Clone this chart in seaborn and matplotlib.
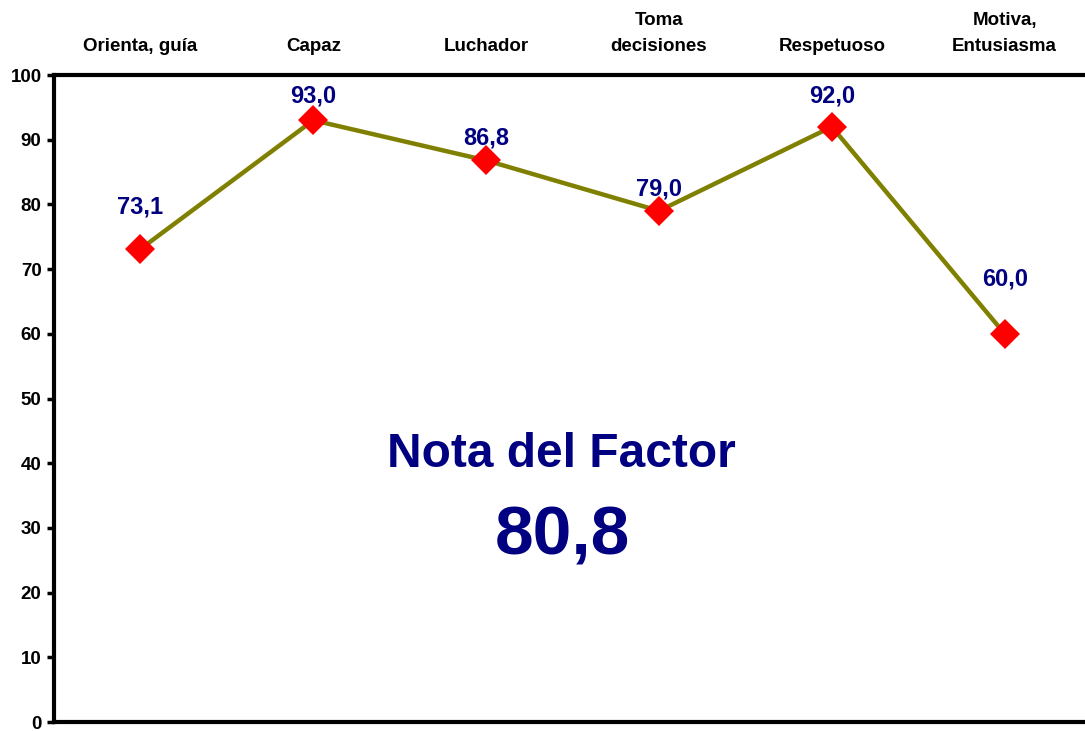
# Line chart of the factor scores with the overall factor note in the middle

import numpy as np
import pandas as pd
import matplotlib
matplotlib.use("Agg")
import matplotlib.pyplot as plt
import seaborn as sns

# data
categories = ["Orienta, guía", "Capaz", "Luchador", "Toma\ndecisiones", "Respetuoso", "Motiva,\nEntusiasma"]
scores = [73.1, 93.0, 86.8, 79.0, 92.0, 60.0]
factor_title = "Nota del Factor"
factor_note = "80,8"
y_ticks = list(range(0, 101, 10))

# layout only: vertical offset (in points) of each value label above its marker
label_dy = [22, 9, 7.5, 7.5, 14, 31.5]

sns.set_style("white")
plt.rcParams['font.family'] = ['Liberation Sans', 'DejaVu Sans']
plt.rcParams['text.color'] = 'black'
plt.rcParams['xtick.color'] = 'black'
plt.rcParams['ytick.color'] = 'black'

df = pd.DataFrame({"cat": categories, "score": scores})

fig = plt.figure(figsize=(10.85, 7.31), dpi=100)
ax = fig.add_axes([0.0498, 0.0123, 0.9558, 0.8851])

sns.lineplot(data=df, x="cat", y="score", ax=ax, sort=False,
             color="#808000", linewidth=3.2,
             marker="D", markersize=15, markerfacecolor="#ff0000",
             markeredgecolor="#ff0000", markeredgewidth=0)

# value labels above the markers
for i, v in enumerate(scores):
    ax.annotate("{:.1f}".format(v).replace(".", ","), xy=(i, v),
                xytext=(0, label_dy[i]), textcoords="offset points",
                ha="center", va="bottom", color="#000080",
                fontsize=17, fontweight="bold")

# big note of the factor in the middle of the plot
ax.text(0.489, 0.413, factor_title, transform=ax.transAxes, ha="center", va="center",
        color="#000080", fontsize=34.5, fontweight="bold")
ax.text(0.490, 0.287, factor_note, transform=ax.transAxes, ha="center", va="center",
        color="#000080", fontsize=50, fontweight="bold")

ax.set_xlim(-0.5, len(categories) - 0.5)
ax.set_ylim(0, 100)
ax.set_yticks(y_ticks)
ax.set_xlabel("")
ax.set_ylabel("")

# category names sit on top of the plot
ax.xaxis.tick_top()
ax.set_xticks(range(len(categories)))
ax.set_xticklabels(categories, fontsize=13.5, fontweight="bold")
for lab in ax.get_xticklabels():
    lab.set_linespacing(1.65)
ax.tick_params(axis="x", length=0, pad=14.5)
ax.tick_params(axis="y", direction="out", length=5, width=2.5, pad=4, left=True,
               labelsize=13.5)
for lab in ax.get_yticklabels():
    lab.set_fontweight("bold")

for side in ["left", "top", "bottom", "right"]:
    ax.spines[side].set_linewidth(3)
    ax.spines[side].set_color("black")

plt.savefig("out.png", dpi=100)
plt.close()
